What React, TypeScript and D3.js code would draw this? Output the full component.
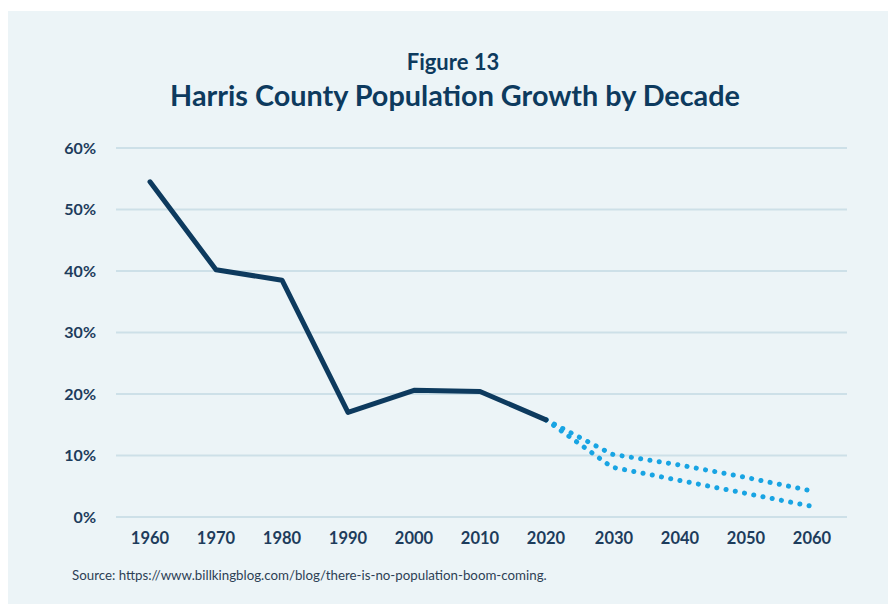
import React from "react";
import * as d3 from "d3";

const years = [1960, 1970, 1980, 1990, 2000, 2010, 2020];
const growth = [54.5, 40.2, 38.5, 17.0, 20.6, 20.4, 15.8];
const projYears = [2020, 2030, 2040, 2050, 2060];
const projHigh = [15.8, 10.2, 8.5, 6.5, 4.3];
const projLow = [15.8, 8.1, 6.0, 3.9, 1.8];
const xTicks = [1960, 1970, 1980, 1990, 2000, 2010, 2020, 2030, 2040, 2050, 2060];
const yTicks = [0, 10, 20, 30, 40, 50, 60];

const W = 888;
const H = 604;
const NAVY = "#0d3a5e";
const BLUE = "#18a4e3";
const FONT = "Lato, 'Open Sans', sans-serif";

export default function App() {
  const x = d3.scaleLinear().domain([1960, 2060]).range([150, 810]);
  const y = d3.scaleLinear().domain([0, 60]).range([517, 148]);
  const line = d3
    .line<[number, number]>()
    .x((d) => x(d[0]))
    .y((d) => y(d[1]));
  const main = years.map((yr, i) => [yr, growth[i]] as [number, number]);
  const hi = projYears.map((yr, i) => [yr, projHigh[i]] as [number, number]);
  const lo = projYears.map((yr, i) => [yr, projLow[i]] as [number, number]);

  return (
    <svg
      width={W}
      height={H}
      style={{ position: "absolute", left: 0, top: 0 }}
      fontFamily={FONT}
    >
      <rect x={0} y={0} width={W} height={H} fill="#ffffff" />
      <rect x={8} y={11} width={W - 8} height={H - 11} fill="#ecf4f7" />
      <text
        x={453}
        y={70}
        textAnchor="middle"
        fontSize={22}
        fontWeight={700}
        fill={NAVY}
      >
        Figure 13
      </text>
      <text
        x={455}
        y={106}
        textAnchor="middle"
        fontSize={28.8}
        fontWeight={700}
        fill={NAVY}
      >
        Harris County Population Growth by Decade
      </text>
      {yTicks.map((t) => (
        <g key={t}>
          <line
            x1={116}
            x2={847}
            y1={y(t)}
            y2={y(t)}
            stroke="#cde0e8"
            strokeWidth={2}
          />
          <text
            x={96}
            y={y(t) + 5.5}
            textAnchor="end"
            fontSize={16}
            fontWeight={700}
            fill="#1d3c5c"
          >
            {t}%
          </text>
        </g>
      ))}
      {xTicks.map((t) => (
        <text
          key={t}
          x={x(t) + (t >= 2030 ? 2 : 0)}
          y={544}
          textAnchor="middle"
          fontSize={16.5}
          fontWeight={700}
          fill="#1d3c5c"
        >
          {t}
        </text>
      ))}
      <path
        d={line(hi) || ""}
        fill="none"
        stroke={BLUE}
        strokeWidth={5}
        strokeLinecap="round"
        strokeDasharray="0.1 9.3"
      />
      <path
        d={line(lo) || ""}
        fill="none"
        stroke={BLUE}
        strokeWidth={5}
        strokeLinecap="round"
        strokeDasharray="0.1 9.3"
      />
      <path
        d={line(main) || ""}
        fill="none"
        stroke={NAVY}
        strokeWidth={5}
        strokeLinecap="round"
        strokeLinejoin="round"
      />
      <text x={72} y={580} fontSize={13.3} fill="#2d3f55" fontFamily={FONT}>
        Source: https://www.billkingblog.com/blog/there-is-no-population-boom-coming.
      </text>
    </svg>
  );
}
